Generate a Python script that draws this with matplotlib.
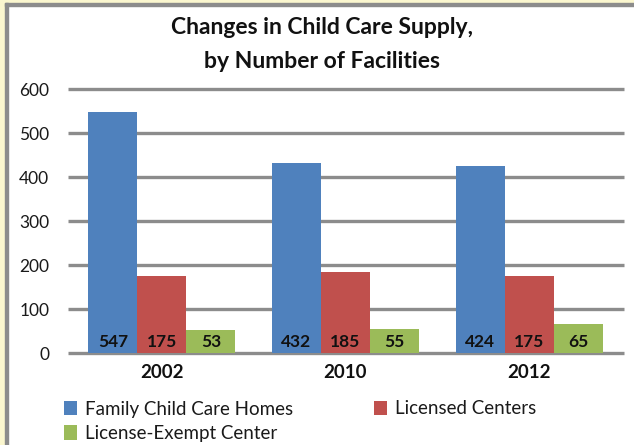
import matplotlib
matplotlib.use("Agg")
import matplotlib.pyplot as plt
from matplotlib.patches import Rectangle
import numpy as np

plt.rcParams['font.family'] = ['Lato', 'DejaVu Sans']

categories = ['2002', '2010', '2012']
series_names = ['Family Child Care Homes', 'Licensed Centers', 'License-Exempt Center']
family_homes = [547, 432, 424]
licensed_centers = [175, 185, 175]
exempt_centers = [53, 55, 65]
yticks = [0, 100, 200, 300, 400, 500, 600]
colors = ['#4F81BD', '#C0504D', '#9BBB59']

W, H = 634, 445
fig = plt.figure(figsize=(W / 100, H / 100), dpi=100)
fig.patch.set_facecolor('white')

# frame decoration: pale yellow strip and gray border
fig.patches.append(Rectangle((0, 0), 5 / W, 1, transform=fig.transFigure, color='#FBF7CF', zorder=0))
fig.patches.append(Rectangle((0, 1 - 3 / H), 1, 3 / H, transform=fig.transFigure, color='#FBF7CF', zorder=0))
fig.patches.append(Rectangle((5 / W, 0), 2.5 / W, 1 - 3 / H, transform=fig.transFigure, color='#8C8C8C', zorder=1))
fig.patches.append(Rectangle((5 / W, 1 - 5.5 / H), 1, 2.5 / H, transform=fig.transFigure, color='#8C8C8C', zorder=1))

left, right = 70 / W, 621 / W
bottom, top = (H - 353) / H, (H - 89) / H
ax = fig.add_axes([left, bottom, right - left, top - bottom])

x = np.arange(len(categories))
bw = 0.267
data = [family_homes, licensed_centers, exempt_centers]
handles = []
for i, (vals, name, c) in enumerate(zip(data, series_names, colors)):
    pos = x + (i - 1) * bw
    h = ax.bar(pos, vals, width=bw, color=c, label=name, zorder=3)
    handles.append(h)
    for p, v in zip(pos, vals):
        ax.text(p, 26, str(v), ha='center', va='center', fontsize=12.5,
                fontweight='bold', color='#111111', zorder=4)

ax.set_xlim(-0.5, 2.5)
ax.set_ylim(0, 600)
ax.set_yticks(yticks)
ax.set_yticklabels([str(t) for t in yticks], fontsize=12.5, color='#1a1a1a')
ax.set_xticks(x)
ax.set_xticklabels(categories, fontsize=13.5, fontweight='bold', color='#111111')
ax.tick_params(axis='both', length=0)
ax.tick_params(axis='y', pad=15)
ax.tick_params(axis='x', pad=8)
for s in ax.spines.values():
    s.set_visible(False)
for yv in yticks:
    ax.plot([-0.51, 2.515], [yv, yv], color='#8C8C8C', linewidth=2.4, zorder=1,
            clip_on=False, solid_capstyle='butt')

fig.text(322 / W, 1 - 28 / H, 'Changes in Child Care Supply,', ha='center', va='center',
         fontsize=16.5, fontweight='bold', color='#111111')
fig.text(322 / W, 1 - 61 / H, 'by Number of Facilities', ha='center', va='center',
         fontsize=16.5, fontweight='bold', color='#111111')

# row-wise order: Family, Licensed / Exempt  (matplotlib fills column-wise)
order = [0, 2, 1]
leg = fig.legend([handles[k] for k in order], [series_names[k] for k in order],
                 loc='upper left', bbox_to_anchor=(56 / W, 1 - 393 / H), ncol=2,
                 frameon=False, fontsize=13.5, handlelength=0.7, handleheight=0.8,
                 handletextpad=0.45, columnspacing=4.3, labelspacing=0.4, borderaxespad=0)
for t in leg.get_texts():
    t.set_color('#1a1a1a')

fig.savefig('out.png', dpi=100)
